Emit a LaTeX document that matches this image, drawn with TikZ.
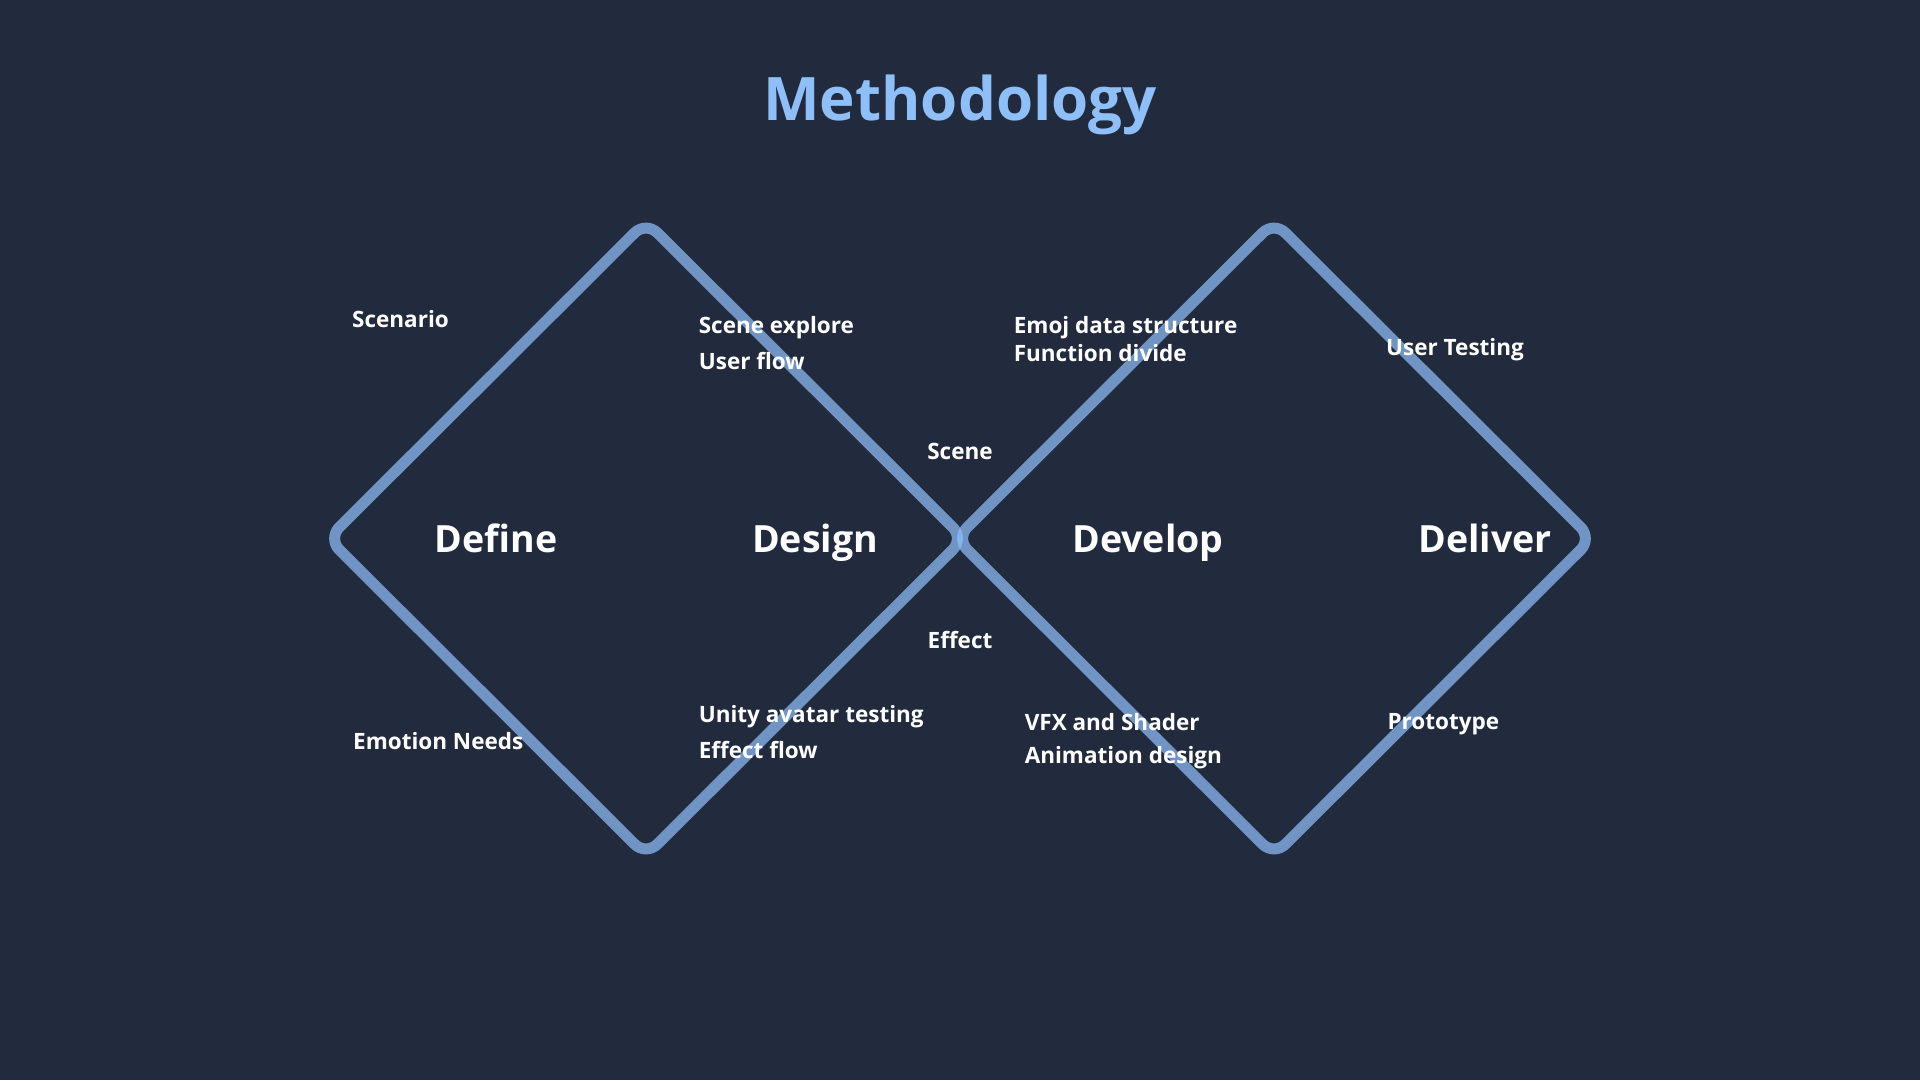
\documentclass[tikz,border=0pt]{standalone}
\usepackage{fontspec}
\setmainfont{Open Sans}
\usepackage{tikz}
\usetikzlibrary{positioning,calc}

\definecolor{bgcol}{HTML}{222B3D}
\definecolor{titlecol}{HTML}{8EBFF8}
\definecolor{linecol}{HTML}{8FBFFA}

\begin{document}
\begin{tikzpicture}[x=1pt,y=-1pt,
  loop/.style={draw=linecol, opacity=0.72, line width=11pt, rounded corners=16pt, line join=round},
  phase/.style={text=white, font=\fontsize{37.5}{45}\selectfont\bfseries, inner sep=0pt, anchor=base},
  item/.style={text=white, font=\fontsize{22.5}{27}\selectfont\bfseries, inner sep=0pt, anchor=base west}]
\fill[bgcol] (0,0) rectangle (1920,1080);
\useasboundingbox (0,0) rectangle (1920,1080);
% title
\node[text=titlecol, font=\fontsize{60}{72}\selectfont\bfseries, inner sep=0pt, anchor=base] (title) at (960,120) {Methodology};
% the two diamonds
\coordinate (l1) at (328,538.5);
\coordinate (t1) at (646,221.5);
\coordinate (r1) at (964,538.5);
\coordinate (b1) at (646,855.5);
\coordinate (l2) at (956,538.5);
\coordinate (t2) at (1274,221.5);
\coordinate (r2) at (1592,538.5);
\coordinate (b2) at (1274,855.5);
\draw[loop] (l1) -- (t1) -- (r1) -- (b1) -- cycle;
\draw[loop] (l2) -- (t2) -- (r2) -- (b2) -- cycle;
% phases
\node[phase] (define) at (496,552.7) {Define};
\node[phase] (design) at (815,552.7) {Design};
\node[phase] (develop) at (1148,552.7) {Develop};
\node[phase] (deliver) at (1485,552.7) {Deliver};
% notes
\node[item] (scenario) at (352,327.3) {Scenario};
\node[item] (explore) at (698.6,333.3) {Scene explore};
\node[item] (userflow) at (698.6,369.3) {User flow};
\node[item, anchor=base] (scene) at (960,459.3) {Scene};
\node[item, anchor=base] (effect) at (960,648.3) {Effect};
\node[item] (emoj) at (1013.6,333.3) {Emoj data structure};
\node[item] (func) at (1013.6,361) {Function divide};
\node[item] (testing) at (1386,355) {User Testing};
\node[item] (needs) at (353,749.3) {Emotion Needs};
\node[item] (unity) at (698.6,722.3) {Unity avatar testing};
\node[item] (effflow) at (698.6,758.3) {Effect flow};
\node[item] (vfx) at (1024.6,730) {VFX and Shader};
\node[item] (anim) at (1024.6,763.3) {Animation design};
\node[item] (proto) at (1387.3,729.3) {Prototype};
\end{tikzpicture}
\end{document}
